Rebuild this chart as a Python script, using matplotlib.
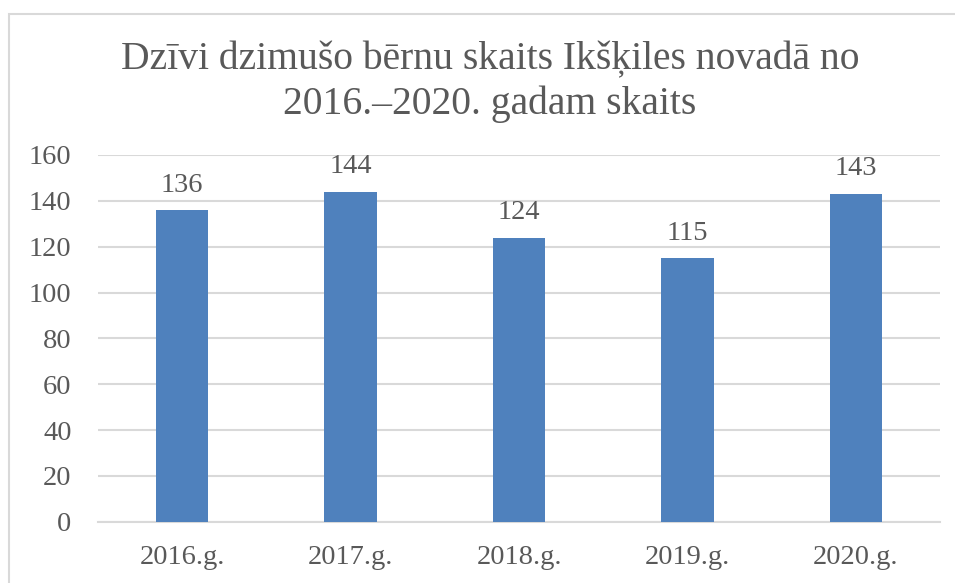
import matplotlib.pyplot as plt
from matplotlib.patches import Rectangle

# dati
gadi = ['2016.g.', '2017.g.', '2018.g.', '2019.g.', '2020.g.']
skaits = [136, 144, 124, 115, 143]
y_ticks = [0, 20, 40, 60, 80, 100, 120, 140, 160]
virsraksts = 'Dzīvi dzimušo bērnu skaits Ikšķiles novadā no\n2016.–2020. gadam skaits'

teksta_krasa = '#595959'
rezga_krasa = '#D9D9D9'
stabini = '#4F81BD'

plt.rcParams['font.family'] = ['Liberation Serif', 'DejaVu Serif']

fig = plt.figure(figsize=(9.55, 5.83), dpi=100)
ax = fig.add_axes([98 / 955, 1 - 521.7 / 583, 842 / 955, 366.7 / 583])

x = range(len(gadi))
ax.bar(x, skaits, width=0.31, color=stabini, zorder=3)
for xi, v in zip(x, skaits):
    ax.annotate(str(v), (xi, v), xytext=(0, 9), textcoords='offset points',
                ha='center', va='bottom', fontsize=20.5, color=teksta_krasa)

ax.set_xlim(-0.5, len(gadi) - 0.5)
ax.set_ylim(0, 160)
ax.set_yticks(y_ticks)
ax.set_xticks(list(x))
ax.set_xticklabels(gadi)
ax.grid(axis='y', color=rezga_krasa, linewidth=1.5, zorder=0)
for s in ['top', 'right', 'left']:
    ax.spines[s].set_visible(False)
ax.spines['bottom'].set_color(rezga_krasa)
ax.spines['bottom'].set_linewidth(1.5)
ax.tick_params(axis='both', length=0, labelsize=20.5, colors=teksta_krasa)
ax.tick_params(axis='y', pad=19)
ax.tick_params(axis='x', pad=17)

fig.text(490 / 955, 1 - 82 / 583, virsraksts, ha='center', va='center',
         fontsize=28.5, color=teksta_krasa, linespacing=1.22)

# rāmis ap diagrammu
fig.patches.append(Rectangle((9 / 955, -0.1), 1.2, 1 - 13.5 / 583 + 0.1,
                             transform=fig.transFigure, fill=False,
                             edgecolor=rezga_krasa, linewidth=1.5))

fig.savefig('out.png', dpi=100)
